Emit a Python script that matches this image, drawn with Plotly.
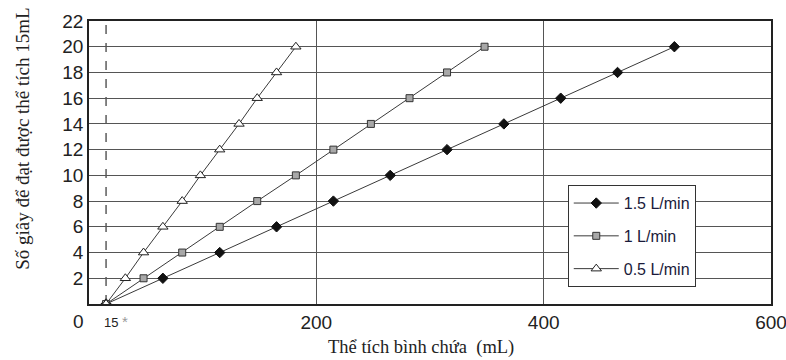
import plotly.graph_objects as go

seconds = [0, 2, 4, 6, 8, 10, 12, 14, 16, 18, 20]
vol_15 = [15, 65, 115, 165, 215, 265, 315, 365, 415, 465, 515]
vol_10 = [15, 48, 82, 115, 148, 182, 215, 248, 282, 315, 348]
vol_05 = [15, 32, 48, 65, 82, 98, 115, 132, 148, 165, 182]
series_names = ["1.5 L/min", "1 L/min", "0.5 L/min"]
x_ticks = [200, 400, 600]
y_ticks = [2, 4, 6, 8, 10, 12, 14, 16, 18, 20, 22]
dead_space = 15

narrow = "Liberation Sans Narrow, Arial Narrow, Liberation Sans, Arial, sans-serif"
serif = "Liberation Serif, Times New Roman, serif"
line_col = "#3a3a3a"

fig = go.Figure()
fig.add_trace(go.Scatter(x=vol_15, y=seconds, name=series_names[0], mode="lines+markers",
                         legendgroup="a",
                         line=dict(color=line_col, width=1),
                         marker=dict(symbol="diamond", size=8, color="#111111",
                                     line=dict(color="#111111", width=1))))
fig.add_trace(go.Scatter(x=vol_10, y=seconds, name=series_names[1], mode="lines+markers",
                         legendgroup="b",
                         line=dict(color=line_col, width=1),
                         marker=dict(symbol="square", size=7, color="#a8a8a8",
                                     line=dict(color="#333333", width=1))))
fig.add_trace(go.Scatter(x=vol_05, y=seconds, name=series_names[2], mode="lines+markers",
                         legendgroup="c",
                         line=dict(color=line_col, width=1),
                         marker=dict(symbol="triangle-up", size=9, color="white",
                                     line=dict(color="#222222", width=1))))

fig.add_shape(type="line", x0=dead_space, x1=dead_space, y0=0, y1=22, xref="x", yref="y",
              line=dict(color="#333333", width=1.2, dash="dash"), layer="below")

fig.update_layout(
    width=786, height=360,
    margin=dict(l=89, r=15, t=21, b=56),
    paper_bgcolor="white", plot_bgcolor="white",
    showlegend=True,
    legend=dict(x=0.702, y=0.42, xanchor="left", yanchor="top",
                bgcolor="white", bordercolor="#333333", borderwidth=1,
                font=dict(family=narrow, size=16, color="#1a1a3a"),
                tracegroupgap=9, itemwidth=45),
    xaxis=dict(range=[0, 600], tickvals=x_ticks, ticktext=[str(v) for v in x_ticks],
               showgrid=True, gridcolor="#555555", gridwidth=1.2,
               showline=True, linecolor="#222222", linewidth=1.5, mirror=True,
               ticks="", zeroline=False, automargin=False,
               ticklabeloverflow="allow",
               tickfont=dict(family=narrow, size=19, color="#222222")),
    yaxis=dict(range=[0, 22], tickvals=y_ticks, ticktext=[str(v) for v in y_ticks],
               showgrid=True, gridcolor="#555555", gridwidth=1.2,
               showline=True, linecolor="#222222", linewidth=1.5, mirror=True,
               ticks="", zeroline=False, automargin=False,
               tickfont=dict(family=narrow, size=19, color="#222222")),
)

# axis titles
fig.add_annotation(x=0.487, y=-0.155, xref="paper", yref="paper",
                   xanchor="center", yanchor="middle", showarrow=False,
                   text="Thể tích bình chứa  (mL)",
                   font=dict(family=serif, size=18.5, color="#222222"))
fig.add_annotation(x=-0.0968, y=0.587, xref="paper", yref="paper",
                   xanchor="center", yanchor="middle", showarrow=False, textangle=-90,
                   text="Số giây để đạt được thể tích 15mL",
                   font=dict(family=serif, size=19, color="#222222"))

fig.add_annotation(x=-0.016, y=0, xref="paper", yref="paper", yshift=-17,
                   xanchor="center", yanchor="middle", text="0", showarrow=False,
                   font=dict(family=narrow, size=19, color="#222222"))
fig.add_annotation(x=dead_space, y=0, xref="x", yref="paper", xshift=10, yshift=-17,
                   xanchor="center", yanchor="middle",
                   text="15 <span style='color:#999999;font-size:15px'>*</span>", showarrow=False,
                   font=dict(family=narrow, size=13, color="#222222"))

fig.write_html("out.html")
